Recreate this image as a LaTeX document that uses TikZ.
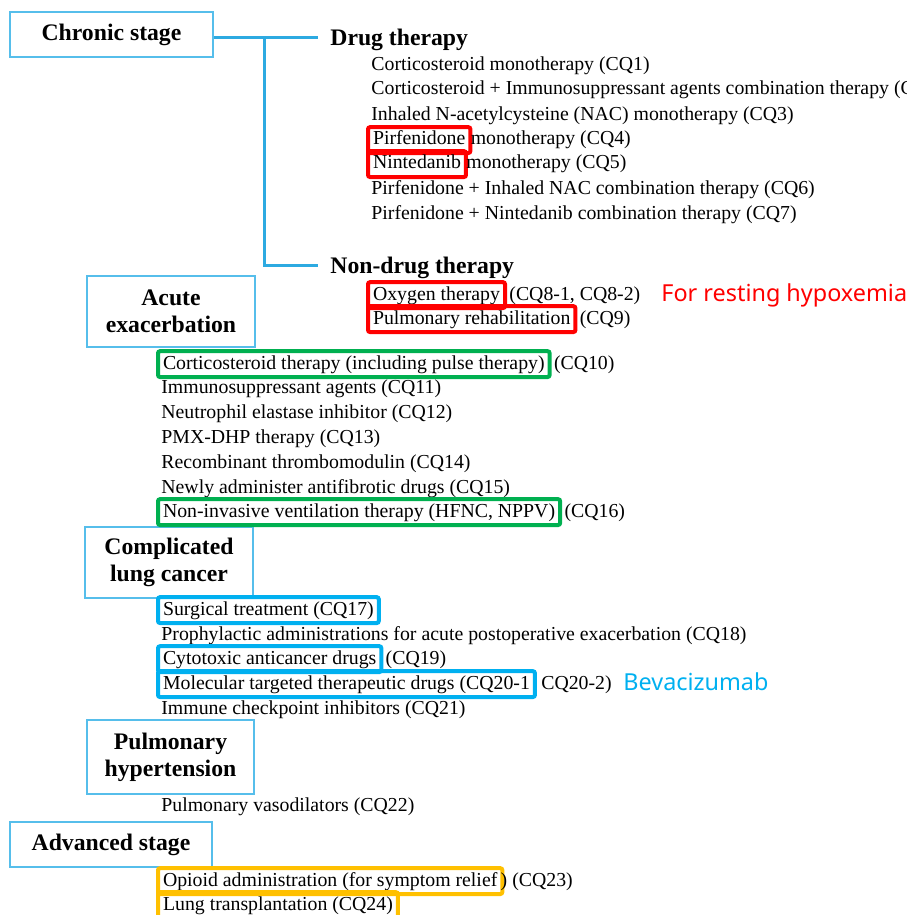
\documentclass[tikz,border=0pt]{standalone}
\usepackage{fontspec}
\setmainfont{Liberation Serif}
\newfontfamily\notefont{Noto Sans}
\definecolor{stageblue}{RGB}{86,190,235}
\definecolor{linkblue}{RGB}{45,170,225}
\definecolor{hlred}{RGB}{255,0,0}
\definecolor{hlgreen}{RGB}{0,176,80}
\definecolor{hlblue}{RGB}{0,176,240}
\definecolor{hlgold}{RGB}{255,192,0}
\tikzset{
  stage/.style={draw=stageblue, line width=0.75pt, align=center, inner sep=0pt,
    font=\fontsize{11.85pt}{13.5pt}\selectfont\bfseries},
  head/.style={anchor=base west, inner xsep=6pt, inner ysep=0pt, text height=9pt, text depth=1pt,
    font=\fontsize{11.85pt}{13.5pt}\selectfont\bfseries},
  item/.style={anchor=base west, inner xsep=2.5pt, inner ysep=1.5pt, text height=7.4pt, text depth=2.5pt,
    font=\fontsize{9.9pt}{12pt}\selectfont},
  rest/.style={anchor=base west, inner xsep=1pt, font=\fontsize{9.9pt}{12pt}\selectfont},
  hl/.style={draw=#1, line width=2pt, rounded corners=1pt},
  link/.style={draw=linkblue, line width=1.5pt},
  note/.style={anchor=base west, inner sep=0pt, font=\notefont\fontsize{11.7pt}{13pt}\selectfont},
}
\begin{document}
\begin{tikzpicture}[x=0.5pt, y=-0.5pt]
    \useasboundingbox (0,0) rectangle (906,915);
    % stages
    \node[stage, minimum width=101.5pt, minimum height=22.5pt] (chronic) at (111.5,34.5) {Chronic stage};
    \node[stage, minimum width=84pt, minimum height=35.5pt] (acute) at (171,311.5) {Acute\\exacerbation};
    \node[stage, minimum width=84pt, minimum height=35.5pt] (cancer) at (169,562.5) {Complicated\\lung cancer};
    \node[stage, minimum width=83.5pt, minimum height=37pt] (ph) at (170.5,757) {Pulmonary\\hypertension};
    \node[stage, minimum width=101pt, minimum height=22.5pt] (advanced) at (111,844.5) {Advanced stage};
    % chronic stage: drug therapy
    \node[head] (drug) at (318,46) {Drug therapy};
    \node[item] (cq1) at (366,71) {Corticosteroid monotherapy (CQ1)};
    \node[item] (cq2) at (366,95) {Corticosteroid + Immunosuppressant agents combination therapy (CQ2)};
    \node[item] (cq3) at (366,120) {Inhaled N-acetylcysteine (NAC) monotherapy (CQ3)};
    \node[item, hl=hlred] (cq4) at (366,145) {Pirfenidone};
    \node[rest, inner xsep=0pt, xshift=-1pt] at (cq4.base east) {monotherapy (CQ4)};
    \node[item, hl=hlred] (cq5) at (366,169) {Nintedanib};
    \node[rest, inner xsep=0pt, xshift=-1pt] at (cq5.base east) {monotherapy (CQ5)};
    \node[item] (cq6) at (366,194) {Pirfenidone + Inhaled NAC combination therapy (CQ6)};
    \node[item] (cq7) at (366,219) {Pirfenidone + Nintedanib combination therapy (CQ7)};
    % chronic stage: non-drug therapy
    \node[head] (nondrug) at (318,273) {Non-drug therapy};
    \node[item, hl=hlred] (cq8) at (366,300) {Oxygen therapy};
    \node[rest] at (cq8.base east) {(CQ8-1, CQ8-2)};
    \node[item, hl=hlred] (cq9) at (366,324) {Pulmonary rehabilitation};
    \node[rest] at (cq9.base east) {(CQ9)};
    \node[note, text=hlred] (hypox) at (661,301) {For resting hypoxemia};
    \draw[link] (chronic.east |- drug.west) -- (drug.west);
    \path (drug.west) ++(-54,0) coordinate (fork);
    \draw[link] (fork) |- (nondrug.west);
    % acute exacerbation
    \node[item, hl=hlgreen] (cq10) at (156,369) {Corticosteroid therapy (including pulse therapy)};
    \node[rest] at (cq10.base east) {(CQ10)};
    \node[item] (cq11) at (156,393) {Immunosuppressant agents (CQ11)};
    \node[item] (cq12) at (156,418) {Neutrophil elastase inhibitor (CQ12)};
    \node[item] (cq13) at (156,443) {PMX-DHP therapy (CQ13)};
    \node[item] (cq14) at (156,468) {Recombinant thrombomodulin (CQ14)};
    \node[item] (cq15) at (156,493) {Newly administer antifibrotic drugs (CQ15)};
    \node[item, hl=hlgreen] (cq16) at (156,517) {Non-invasive ventilation therapy (HFNC, NPPV)};
    \node[rest] at (cq16.base east) {(CQ16)};
    % complicated lung cancer
    \node[item, hl=hlblue] (cq17) at (156,615) {Surgical treatment (CQ17)};
    \node[item] (cq18) at (156,640) {Prophylactic administrations for acute postoperative exacerbation (CQ18)};
    \node[item, hl=hlblue] (cq19) at (156,664) {Cytotoxic anticancer drugs};
    \node[rest] at (cq19.base east) {(CQ19)};
    \node[item, hl=hlblue] (cq20) at (156,689) {Molecular targeted therapeutic drugs (CQ20-1};
    \node[rest, inner xsep=2pt] at (cq20.base east) {CQ20-2)};
    \node[note, text=hlblue] (bev) at (623,690) {Bevacizumab};
    \node[item] (cq21) at (156,714) {Immune checkpoint inhibitors (CQ21)};
    % pulmonary hypertension
    \node[item] (cq22) at (156,811) {Pulmonary vasodilators (CQ22)};
    % advanced stage
    \node[item, hl=hlgold] (cq23) at (156,886) {Opioid administration (for symptom relief};
    \node[rest, inner xsep=0pt, xshift=-2pt] at (cq23.base east) {) (CQ23)};
    \node[item, hl=hlgold] (cq24) at (156,910) {Lung transplantation (CQ24)};
\end{tikzpicture}
\end{document}
